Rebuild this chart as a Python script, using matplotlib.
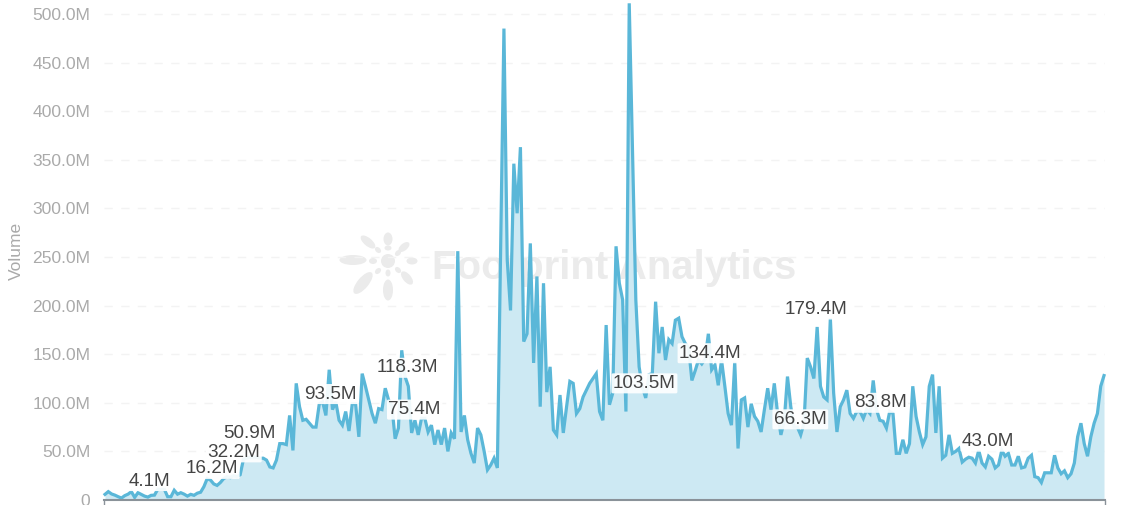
import numpy as np
import matplotlib
matplotlib.use("Agg")
import matplotlib.pyplot as plt
from matplotlib.patches import Ellipse
from matplotlib.transforms import Affine2D

W, H = 1129, 505

# daily volume in millions
volume = [
    5.8, 8.6, 6.2, 5, 3.4, 2, 4.5, 6, 8.6, 2.7, 7.5, 5.8, 4, 3, 4.8, 5, 11, 11, 11, 3.4,
    3.4, 10, 6, 7.5, 6, 4, 5.8, 4.8, 7, 8, 13.7, 22, 20.5, 16.5, 15, 18, 22, 24, 23, 25,
    24, 26, 42, 43, 44, 44, 44, 43, 43, 41, 34, 33, 41, 58, 58, 57, 87, 51, 120,
    96, 82, 83, 79, 75, 75, 99, 101, 87, 134, 93, 101, 82, 77, 91, 71, 99, 99, 65,
    130, 117, 103, 89, 79, 94, 93, 115, 103, 97, 63, 74, 154, 127, 117, 69, 82, 67, 84,
    84, 70, 77, 57, 72, 57, 74, 50, 69, 63, 256, 70, 87, 62, 48, 38, 74, 67,
    50, 31, 36, 43, 33, 260, 485, 247, 195, 346, 295, 363, 163, 171, 264, 141, 230, 96, 223, 111,
    137, 72, 67, 108, 69, 96, 122, 120, 89, 94, 106, 113, 120, 125, 130, 91, 82, 180, 98, 110,
    261, 223, 206, 91, 511, 360, 206, 137, 116, 105, 129, 130, 204, 151, 178, 144, 165, 161, 185,
    187, 168, 161, 157, 123, 133, 144, 140, 145, 171, 134, 139, 118, 144, 117, 89, 77, 142, 53, 103,
    105, 75, 99, 86, 81, 70, 93, 115, 93, 120, 89, 67, 81, 127, 96, 75, 75, 67, 79,
    146, 137, 125, 178, 117, 106, 103, 187, 110, 70, 96, 103, 113, 89, 84, 91, 91, 84, 93, 89,
    123, 93, 82, 81, 74, 91, 89, 48, 48, 62, 48, 58, 117, 86, 70, 57, 65, 117, 129, 69,
    117, 43, 46, 67, 48, 50, 53, 39, 42, 44, 43, 38, 51, 38, 34, 45, 42, 33, 36, 51, 45, 48,
    36, 36, 45, 33, 34, 43, 46, 24, 23, 18, 28, 28, 28, 46, 33, 27, 30, 23, 27, 38,
    65, 79, 58, 45, 65, 79, 89, 117, 128,
]

y_ticks = [0, 50, 100, 150, 200, 250, 300, 350, 400, 450, 500]
y_tick_labels = ["0", "50.0M", "100.0M", "150.0M", "200.0M", "250.0M", "300.0M",
                 "350.0M", "400.0M", "450.0M", "500.0M"]

# value labels: text, position along the series (0-1), height in millions
label_text = ["4.1M", "16.2M", "32.2M", "50.9M", "93.5M", "118.3M", "75.4M",
              "103.5M", "134.4M", "179.4M", "66.3M", "83.8M", "43.0M"]
label_pos = [0.044, 0.107, 0.129, 0.145, 0.226, 0.303, 0.310,
             0.540, 0.606, 0.712, 0.696, 0.776, 0.884]
label_y = [19.5, 32, 49, 68, 109, 136, 93, 120, 151, 196, 83, 100, 60]

plt.rcParams["font.family"] = ["Liberation Sans", "DejaVu Sans"]

fig = plt.figure(figsize=(W / 100, H / 100), dpi=100)
ax = fig.add_axes([104 / W, (H - 500) / H, 1001 / W, 500 / H])
ax.patch.set_alpha(0)

x = np.arange(len(volume))
ax.set_xlim(-0.3, len(volume) - 1 + 0.3)
ax.set_ylim(0, 500 / 0.972)

# watermark, in pixels from the top left
px = Affine2D().scale(1, -1).translate(0, H)
wm = "#ebebeb"
petals = [(353, 260, 27, 10, 0), (363, 283, 27, 11, -50), (388, 290, 10, 21, 0), (407, 278, 16, 8, 50),
          (412, 261, 11, 7, 0), (404, 247, 13, 7, -40), (388, 239, 9, 13, 0), (368, 242, 18, 8, 40),
          (373, 261, 8, 6, 0), (378, 250, 7, 5, 45), (388, 248, 7, 5, 0), (398, 253, 7, 5, -45),
          (398, 270, 7, 5, 45), (378, 271, 7, 5, -45), (388, 273, 5, 7, 0), (388, 261, 14, 14, 0)]
for cx, cy, w, h, a in petals:
    ax.add_patch(Ellipse((cx, cy), w, h, angle=a, transform=px, facecolor=wm, edgecolor="none",
                         clip_on=False, zorder=0))
ax.text(432, 268, "Footprint Analytics", transform=px, fontsize=28.9, fontweight="bold",
        color=wm, va="center", ha="left", zorder=0)

ax.fill_between(x, volume, 0, color="#cde9f3", linewidth=0, zorder=1)
ax.plot(x, volume, color="#5ab7d8", linewidth=2.3, solid_joinstyle="miter", zorder=2, clip_on=False)

ax.set_yticks(y_ticks)
ax.set_yticklabels(y_tick_labels, color="#aaaaaa", fontsize=12.6)
ax.tick_params(axis="y", length=0, pad=9.8)
ax.grid(axis="y", color="#f3f3f3", linestyle=(0, (6, 6)), linewidth=1)
ax.set_axisbelow(True)

ax.set_xticks([x[0] - 0.3, x[-1] + 0.3])
ax.set_xticklabels([])
ax.tick_params(axis="x", length=4, width=1, color="#8a9299")

for s in ["top", "right", "left"]:
    ax.spines[s].set_visible(False)
ax.spines["bottom"].set_color("#8a9299")
ax.spines["bottom"].set_linewidth(1.5)

# earlier labels sit on top so the stacked ones at the left stay readable
for i, (t, p, v) in enumerate(zip(label_text, label_pos, label_y)):
    ax.text(p * (len(volume) - 1), v, t, color="#444444", fontsize=13.6, ha="center", va="center",
            zorder=20 - i, bbox=dict(facecolor="white", alpha=0.92, edgecolor="none",
                                     boxstyle="round,pad=0.08"))

fig.text(16 / W, 1 - 251 / H, "Volume", rotation=90, color="#aaaaaa", fontsize=12.5,
         ha="center", va="center")

fig.savefig("out.png", dpi=100)
